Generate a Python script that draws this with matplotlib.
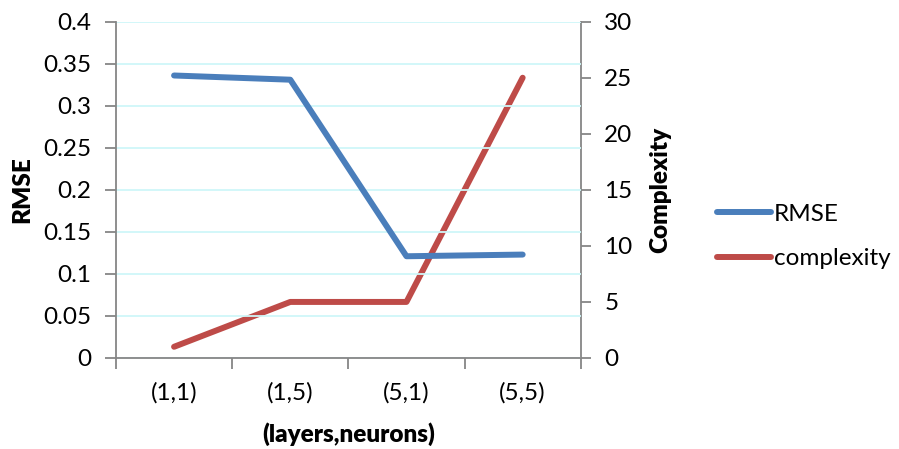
import matplotlib
matplotlib.use("Agg")
import matplotlib.pyplot as plt
from matplotlib.lines import Line2D

plt.rcParams['font.family'] = ['Lato', 'DejaVu Sans']

categories = ["(1,1)", "(1,5)", "(5,1)", "(5,5)"]
rmse = [0.336, 0.331, 0.121, 0.123]
complexity = [1, 5, 5, 25]
left_ticks = [0, 0.05, 0.1, 0.15, 0.2, 0.25, 0.3, 0.35, 0.4]
left_labels = ["0", "0.05", "0.1", "0.15", "0.2", "0.25", "0.3", "0.35", "0.4"]
right_ticks = [0, 5, 10, 15, 20, 25, 30]

blue = "#4A7EBB"
red = "#BE4B48"
axis_gray = "#868686"
grid_color = "#CFF7F9"
fs = 17.5

fig = plt.figure(figsize=(8.99, 4.49), dpi=100)
ax = fig.add_axes([0.129, 0.2027, 0.517, 0.749])
ax2 = ax.twinx()

x = list(range(len(categories)))
ax.plot(x, rmse, color=blue, lw=4.3, solid_capstyle='round', zorder=3)
ax2.plot(x, complexity, color=red, lw=4.3, solid_capstyle='round', zorder=3)
ax.set_zorder(ax2.get_zorder() + 1)
ax.patch.set_visible(False)

ax.set_xlim(-0.5, len(categories) - 0.5)
ax.set_ylim(0, 0.4)
ax2.set_ylim(0, 30)

ax.set_yticks(left_ticks)
ax.set_yticklabels(left_labels)
ax2.set_yticks(right_ticks)
ax2.set_yticklabels([str(t) for t in right_ticks])

# category boundaries get tick marks, category names sit between them
ax.set_xticks([i - 0.5 for i in range(len(categories) + 1)])
ax.set_xticklabels([])
ax.set_xticks(x, minor=True)
ax.set_xticklabels(categories, minor=True)
ax.tick_params(axis='x', which='minor', length=0, pad=17, labelsize=fs)
ax.tick_params(axis='x', which='major', length=8, width=1.3, color=axis_gray)
ax.tick_params(axis='y', length=8, width=1.3, color=axis_gray, pad=10, labelsize=fs)
ax2.tick_params(axis='y', length=7, width=1.3, color=axis_gray, pad=10, labelsize=fs)

ax.yaxis.grid(True, color=grid_color, lw=1.3)
ax.set_axisbelow(True)

for a in (ax, ax2):
    a.spines['top'].set_visible(False)
    for s in ('left', 'right', 'bottom'):
        a.spines[s].set_color(axis_gray)
        a.spines[s].set_linewidth(1.3)
ax2.spines['bottom'].set_visible(False)
ax2.spines['left'].set_visible(False)
ax.spines['right'].set_visible(False)

ax.set_ylabel("RMSE", fontsize=fs, fontweight='heavy', labelpad=7)
ax2.set_ylabel("Complexity", fontsize=fs, fontweight='heavy', labelpad=12)
ax.set_xlabel("(layers,neurons)", fontsize=fs, fontweight='heavy', labelpad=14)

handles = [Line2D([], [], color=blue, lw=4.3, solid_capstyle='round'),
           Line2D([], [], color=red, lw=4.3, solid_capstyle='round')]
fig.legend(handles, ["RMSE", "complexity"], loc='center left',
           bbox_to_anchor=(0.7976, 0.4733), frameon=False, fontsize=fs,
           borderaxespad=0, borderpad=0,
           handlelength=2.2, handletextpad=0.15, labelspacing=0.95)

fig.savefig("out.png", dpi=100)
